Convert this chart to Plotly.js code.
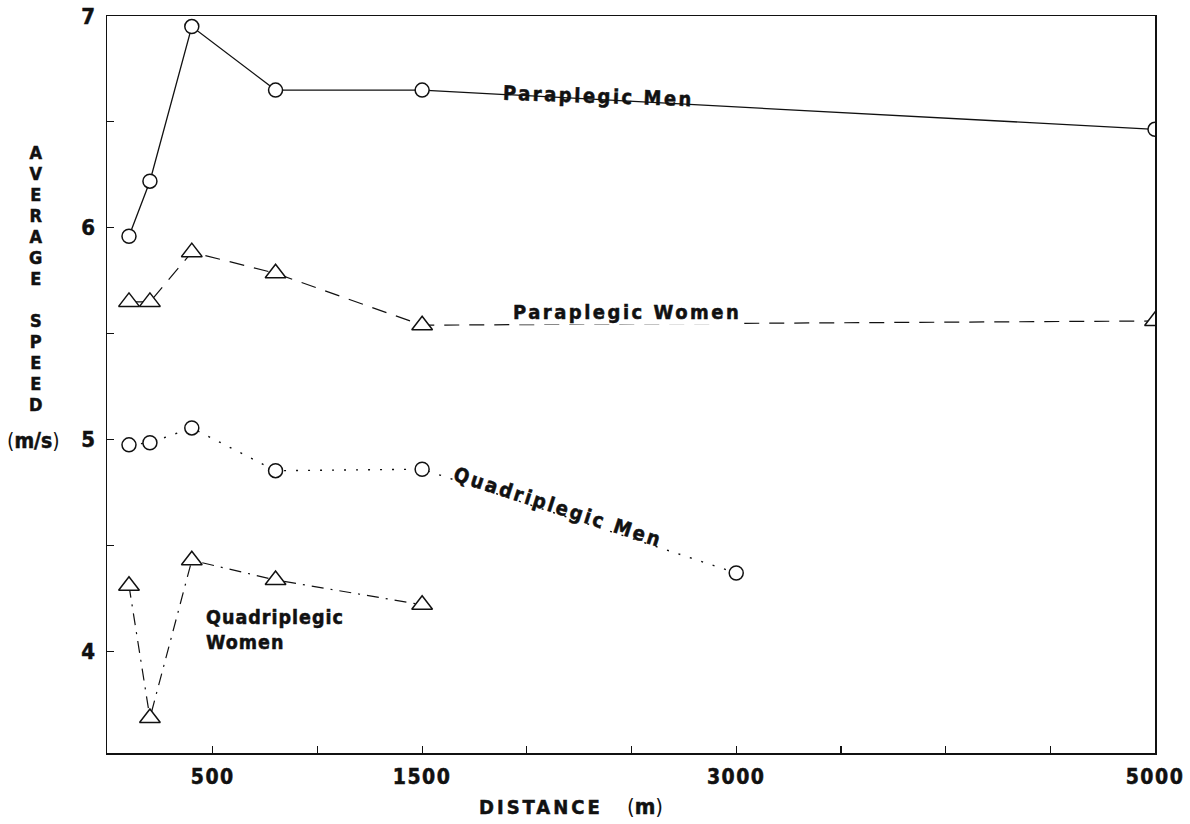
<!DOCTYPE html>
<html>
<head>
<meta charset="utf-8">
<script src="https://cdn.plot.ly/plotly-3.0.1.min.js"></script>
<style>html,body{margin:0;padding:0;background:#fff;}#chart{width:1190px;height:824px;}</style>
</head>
<body>
<div id="chart"></div>
<script>
// ---- data ----
const paraMenDist = [100, 200, 400, 800, 1500, 5000];
const paraMen = [5.96, 6.22, 6.95, 6.65, 6.65, 6.465];
const paraWomenDist = [100, 200, 400, 800, 1500, 5000];
const paraWomen = [5.65, 5.65, 5.885, 5.785, 5.54, 5.56];
const quadMenDist = [100, 200, 400, 800, 1500, 3000];
const quadMen = [4.975, 4.985, 5.055, 4.853, 4.86, 4.37];
const quadWomenDist = [100, 200, 400, 800, 1500];
const quadWomen = [4.31, 3.685, 4.43, 4.337, 4.22];

const xTickVals = [500, 1000, 1500, 2000, 2500, 3000, 3500, 4000, 4500, 5000];
const xTickText = ['500', '', '1500', '', '', '3000', '', '', '', '5000'];
const yTickVals = [4, 4.5, 5, 5.5, 6, 6.5, 7];
const yTickText = ['4', '', '5', '', '6', '', '7'];

const yTitleLetters = ['A','V','E','R','A','G','E','','S','P','E','E','D'];

const FONT = 'DejaVu Sans Condensed, Liberation Sans Narrow, Liberation Sans, Arial, sans-serif';
const ink = '#111';
const HEAVY = 'stroke:#111;stroke-width:0.5px;';

function sp(t, px) {
  return '<span style="letter-spacing:' + px + 'px;' + HEAVY + '">' + t + '</span>';
}

const traces = [
  {x: paraMenDist, y: paraMen, mode: 'lines+markers', name: 'Paraplegic Men',
   line: {color: ink, width: 1.3, dash: 'solid'},
   marker: {symbol: 'circle', size: 14, color: '#fff', line: {color: ink, width: 1.5}}},
  {x: paraWomenDist, y: paraWomen, mode: 'lines+markers', name: 'Paraplegic Women',
   line: {color: ink, width: 1.2, dash: '15px,10px'},
   marker: {symbol: 'triangle-up', size: 18, color: '#fff', line: {color: ink, width: 1.5}}},
  {x: quadMenDist, y: quadMen, mode: 'lines+markers', name: 'Quadriplegic Men',
   line: {color: ink, width: 1.4, dash: '2px,10px'},
   marker: {symbol: 'circle', size: 14, color: '#fff', line: {color: ink, width: 1.5}}},
  {x: quadWomenDist, y: quadWomen, mode: 'lines+markers', name: 'Quadriplegic Women',
   line: {color: ink, width: 1.2, dash: '12px,7px,2px,7px'},
   marker: {symbol: 'triangle-up', size: 18, color: '#fff', line: {color: ink, width: 1.5}}}
];

// plot area in pixels: left 107, right 1155, top 16, bottom 753
const L = 107, R = 1155, T = 16, B = 753;
function px(p) { return (p - L) / (R - L); }
function py(p) { return (B - p) / (B - T); }

const annotations = [];
const tf = {family: FONT, size: 20, color: ink, weight: 700};
function dataNote(x, y, text, extra) {
  const a = {xref: 'x', yref: 'y', x: x, y: y, text: text, showarrow: false, font: tf,
             xanchor: 'center', yanchor: 'middle'};
  Object.assign(a, extra || {});
  annotations.push(a);
}
dataNote(2340, 6.62, sp('Paraplegic Men', 2.5), {textangle: 2});
dataNote(2480, 5.60, sp('Paraplegic Women', 2.5), {bgcolor: '#fff', borderpad: 0});
dataNote(2150, 4.68, sp('Quadriplegic Men', 2.5), {textangle: 18});
dataNote(460, 4.10, sp('Quadriplegic', 1) + '<br>' + sp('Women', 1),
  {xanchor: 'left', align: 'left', font: {family: FONT, size: 19.5, color: ink, weight: 700}});

function paperNote(xp, yp, text, font, extra) {
  const a = {xref: 'paper', yref: 'paper', x: px(xp), y: py(yp), text: text,
    xanchor: 'center', yanchor: 'middle', showarrow: false, font: font};
  Object.assign(a, extra || {});
  annotations.push(a);
}
// vertical stacked axis title: one text, 21px line pitch, 18px glyphs
const yTitleText = yTitleLetters.map(function (ch) {
  return ch ? '<span style="font-size:18px;' + HEAVY + '">' + ch + '</span>' : '';
}).join('<br>');
paperNote(35, 150, yTitleText, {family: FONT, size: 16.15, color: ink, weight: 700}, {yanchor: 'top', align: 'center', yshift: 10});
paperNote(33, 441, '(<span style="' + HEAVY + 'font-weight:700">m/s</span>)',
  {family: FONT, size: 21, color: ink});
paperNote(541, 807, sp('DISTANCE', 3), {family: FONT, size: 20, color: ink, weight: 700});
paperNote(645, 807, '(<span style="' + HEAVY + 'font-weight:700">m</span>)',
  {family: FONT, size: 22, color: ink});

const layout = {
  width: 1190, height: 824,
  margin: {l: L, r: 1190 - R, t: T, b: 824 - B, pad: 0},
  paper_bgcolor: '#fff', plot_bgcolor: '#fff',
  showlegend: false,
  xaxis: {
    range: [-5, 5000], showgrid: false, zeroline: false,
    showline: true, mirror: true, linecolor: ink, linewidth: 1.5,
    ticks: 'inside', ticklen: 7, tickwidth: 1.2, tickcolor: ink,
    tickmode: 'array', tickvals: xTickVals,
    ticktext: xTickText.map(function (t) { return t ? sp(t, 1.5) : ''; }),
    tickfont: {family: FONT, size: 21, color: ink, weight: 700},
    ticklabelstandoff: 4
  },
  yaxis: {
    range: [3.52, 7], showgrid: false, zeroline: false,
    showline: true, mirror: true, linecolor: ink, linewidth: 1.5,
    ticks: 'inside', ticklen: 7, tickwidth: 1.2, tickcolor: ink,
    tickmode: 'array', tickvals: yTickVals,
    ticktext: yTickText.map(function (t) { return t ? sp(t, 0) : ''; }),
    tickfont: {family: FONT, size: 22, color: ink, weight: 700},
    ticklabelstandoff: 6
  },
  annotations: annotations
};

Plotly.newPlot('chart', traces, layout, {displayModeBar: false, staticPlot: true});
</script>
</body>
</html>
